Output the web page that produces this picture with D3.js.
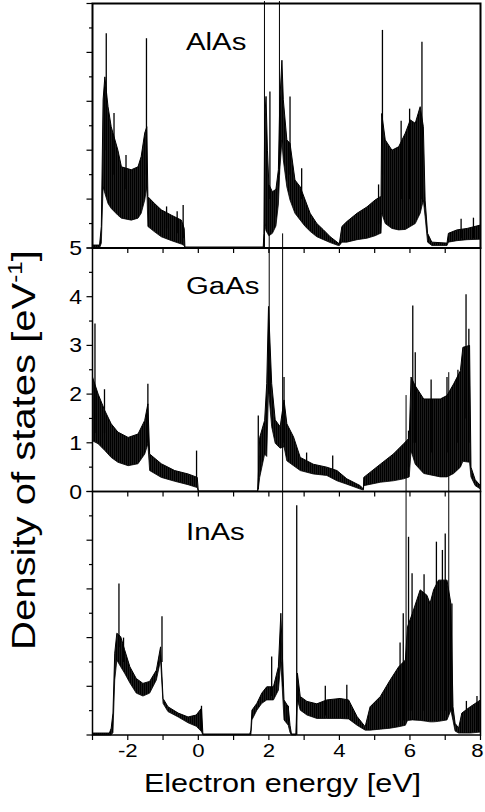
<!DOCTYPE html>
<html>
<head>
<meta charset="utf-8">
<script src="https://cdn.jsdelivr.net/npm/d3@7"></script>
<style>
  body { margin: 0; background: #fff; }
  svg { display: block; }
  text { font-family: "Liberation Sans", Arial, Helvetica, sans-serif; fill: #000; }
</style>
</head>
<body>
<div id="chart"></div>
<script>
// energy axis ticks
const xTicks = [-3, -2, -1, 0, 1, 2, 3, 4, 5, 6, 7, 8];
const xLabels = [-2, 0, 2, 4, 6, 8];
const yTicks = [0, 0.5, 1, 1.5, 2, 2.5, 3, 3.5, 4, 4.5, 5];
const yLabels = [0, 1, 2, 3, 4, 5];

// AlAs: energy, upper and lower edge of the oscillating band, plus spikes [E, base, top]
const alasE  = [-3.0, -2.80, -2.75, -2.70, -2.65, -2.56, -2.47, -2.28, -2.18, -1.90, -1.71, -1.62, -1.52, -1.46, -1.43, -1.24, -1.05, -0.76, -0.48, -0.40, -0.38, 1.84, 1.86, 1.88, 1.92, 1.96, 2.00, 2.10, 2.20, 2.27, 2.31, 2.37, 2.41, 2.51, 2.60, 2.74, 2.89, 3.03, 3.17, 3.36, 3.55, 3.74, 3.97, 4.00, 4.07, 4.21, 4.50, 4.78, 5.01, 5.16, 5.18, 5.20, 5.30, 5.49, 5.68, 5.87, 6.01, 6.15, 6.29, 6.38, 6.43, 6.50, 6.62, 7.05, 7.09, 7.33, 7.62, 8.0];
const alasHi = [0.06, 0.06, 0.44, 3.03, 3.5, 2.89, 2.48, 2.0, 1.66, 1.6, 1.66, 1.87, 2.35, 2.48, 1.05, 0.91, 0.78, 0.67, 0.57, 0.4, 0.02, 0.02, 0.3, 2.6, 3.1, 2.0, 1.3, 1.15, 1.2, 1.6, 3.0, 3.84, 3.03, 2.21, 2.14, 1.39, 1.25, 0.98, 0.71, 0.5, 0.37, 0.23, 0.1, 0.1, 0.44, 0.54, 0.71, 0.84, 0.98, 1.05, 1.05, 2.75, 2.21, 2.0, 2.07, 2.35, 2.62, 2.55, 2.89, 2.48, 0.98, 0.3, 0.12, 0.1, 0.3, 0.37, 0.4, 0.47];
const alasLo = [0, 0, 0.1, 1.25, 1.12, 0.91, 0.81, 0.67, 0.61, 0.57, 0.61, 0.71, 0.98, 1.25, 0.44, 0.33, 0.23, 0.15, 0.08, 0.05, 0, 0, 0, 0.5, 0.35, 0.3, 0.25, 0.3, 0.45, 0.9, 1.6, 2.2, 1.8, 1.25, 0.98, 0.71, 0.57, 0.44, 0.34, 0.23, 0.17, 0.11, 0.05, 0.05, 0.12, 0.12, 0.17, 0.2, 0.25, 0.3, 0.3, 0.71, 0.5, 0.4, 0.37, 0.38, 0.44, 0.5, 0.71, 0.98, 0.64, 0.12, 0.05, 0.05, 0.12, 0.15, 0.17, 0.18];
const alasSpikes = [[-2.61, 2.0, 4.39], [-2.39, 1.5, 2.76], [-2.05, 1.2, 1.9], [-1.47, 1.5, 4.29], [-0.9, 0.4, 0.85], [-0.6, 0.3, 0.75], [-0.43, 0.2, 0.88], [1.875, 0, 5.05], [2.03, 1.0, 3.2], [2.30, 1.5, 5.05], [2.60, 1.5, 3.1], [2.93, 1.0, 1.63], [5.11, 0.5, 1.3], [5.22, 1.5, 4.46], [5.75, 1.0, 2.6], [5.99, 1.0, 2.85], [6.34, 1.0, 4.22], [7.45, 0.2, 0.6], [7.8, 0.2, 0.62]];

// GaAs
const gaasE  = [-3.0, -2.84, -2.65, -2.47, -2.28, -1.99, -1.71, -1.52, -1.43, -1.38, -1.05, -0.67, -0.29, -0.03, 0.0, 1.68, 1.70, 1.74, 1.88, 1.94, 1.99, 2.08, 2.18, 2.32, 2.43, 2.51, 2.70, 2.89, 3.26, 3.64, 3.93, 4.21, 4.59, 4.68, 4.69, 5.16, 5.53, 5.82, 5.98, 6.03, 6.15, 6.39, 6.86, 7.05, 7.24, 7.43, 7.50, 7.69, 7.73, 7.85, 8.0];
const gaasHi = [2.35, 2.0, 1.66, 1.39, 1.22, 1.11, 1.18, 1.46, 1.8, 0.77, 0.57, 0.43, 0.36, 0.29, 0.01, 0.01, 0.29, 1.11, 1.46, 2.22, 3.8, 2.22, 1.47, 1.33, 1.88, 1.39, 1.12, 0.7, 0.56, 0.5, 0.43, 0.26, 0.12, 0.05, 0.29, 0.56, 0.77, 0.98, 1.1, 2.35, 2.17, 1.9, 1.9, 1.97, 2.21, 2.48, 2.96, 3.0, 0.5, 0.24, 0.12];
const gaasLo = [1.04, 0.98, 0.84, 0.7, 0.6, 0.53, 0.57, 0.77, 0.98, 0.43, 0.29, 0.21, 0.14, 0.08, 0, 0, 0.05, 0.29, 0.77, 0.72, 2.09, 1.33, 0.99, 0.89, 0.92, 0.63, 0.53, 0.43, 0.36, 0.33, 0.22, 0.15, 0.05, 0.03, 0.12, 0.19, 0.22, 0.26, 0.3, 0.84, 0.56, 0.37, 0.3, 0.3, 0.37, 0.5, 0.62, 0.6, 0.3, 0.12, 0.05];
const gaasSpikes = [[-2.93, 1.2, 3.45], [-2.66, 1.2, 2.1], [-1.43, 1.0, 2.21], [-0.05, 0.2, 0.84], [1.70, 0.05, 1.56], [2.01, 2.0, 5.3], [2.43, 1.0, 2.35], [3.07, 0.5, 0.8], [3.81, 0.4, 0.74], [5.96, 0.5, 1.25], [6.08, 1.0, 3.82], [6.15, 1.0, 2.86], [6.6, 0.8, 2.3], [7.05, 0.8, 2.35], [7.36, 1.0, 2.5], [7.59, 1.5, 4.05], [7.67, 1.0, 3.34]];

// InAs
const inasE  = [-3.0, -2.52, -2.47, -2.42, -2.37, -2.31, -2.2, -2.09, -1.94, -1.76, -1.57, -1.38, -1.19, -1.07, -1.0, -0.86, -0.57, -0.29, -0.06, 0.09, 0.13, 1.46, 1.49, 1.52, 1.66, 1.80, 1.94, 2.13, 2.27, 2.34, 2.43, 2.55, 2.60, 2.64, 2.77, 2.81, 2.89, 3.08, 3.36, 3.64, 4.02, 4.26, 4.50, 4.73, 4.87, 5.16, 5.44, 5.68, 5.87, 5.93, 6.07, 6.29, 6.48, 6.57, 6.67, 6.81, 7.05, 7.16, 7.22, 7.28, 7.38, 7.47, 7.71, 8.0];
const inasHi = [0.04, 0.04, 0.14, 0.45, 1.68, 2.09, 2.02, 1.75, 1.4, 1.16, 1.06, 1.1, 1.33, 1.81, 0.75, 0.58, 0.45, 0.37, 0.41, 0.55, 0.02, 0.02, 0.1, 0.51, 0.65, 0.86, 0.99, 0.99, 1.4, 2.5, 0.72, 0.58, 0.2, 0.02, 0.02, 1.27, 0.79, 0.69, 0.64, 0.72, 0.75, 0.72, 0.38, 0.17, 0.58, 0.79, 1.13, 1.4, 1.54, 2.22, 2.5, 2.98, 2.87, 2.7, 2.98, 3.18, 3.18, 2.7, 0.58, 0.24, 0.14, 0.45, 0.58, 0.72];
const inasLo = [0, 0, 0, 0.05, 1.13, 1.54, 1.4, 1.27, 1.07, 0.86, 0.8, 0.86, 1.13, 1.54, 0.65, 0.48, 0.37, 0.25, 0.18, 0.07, 0, 0, 0, 0.31, 0.51, 0.65, 0.72, 0.72, 0.92, 1.5, 0.31, 0.2, 0.05, 0, 0, 0.72, 0.51, 0.41, 0.34, 0.34, 0.34, 0.33, 0.2, 0.1, 0.1, 0.12, 0.14, 0.17, 0.2, 0.3, 0.31, 0.3, 0.28, 0.27, 0.27, 0.28, 0.31, 0.51, 0.3, 0.08, 0.04, 0.04, 0.04, 0.06];
const inasSpikes = [[-2.25, 1.8, 3.11], [-2.12, 1.5, 2.0], [-1.03, 1.5, 2.44], [0.09, 0.07, 0.6], [2.08, 0.8, 1.61], [2.39, 1.0, 10.3], [2.55, 0.3, 0.6], [2.79, 0.0, 4.72], [3.6, 0.4, 1.01], [4.21, 0.4, 1.03], [5.72, 0.3, 1.9], [5.81, 0.3, 2.5], [5.89, 0.3, 6.98], [5.96, 0.5, 4.07], [6.06, 0.5, 3.32], [6.4, 0.5, 3.3], [6.75, 0.5, 3.97], [6.92, 0.5, 3.8], [7.0, 0.5, 4.14], [7.1, 0.5, 7.45], [7.19, 0.5, 2.7], [7.6, 0.1, 0.7], [7.9, 0.1, 0.8]];

const width = 485, height = 812;
const svg = d3.select("#chart").append("svg")
    .attr("width", width)
    .attr("height", height);

// fine vertical hatching, the band is a dense oscillation in the scan
const pat = svg.append("defs").append("pattern")
    .attr("id", "hatch")
    .attr("patternUnits", "userSpaceOnUse")
    .attr("width", 2).attr("height", 10);
pat.append("rect").attr("width", 2).attr("height", 10).attr("fill", "#3a3a3a");
pat.append("rect").attr("width", 1.5).attr("height", 10).attr("fill", "#000");

const x = d3.scaleLinear().domain([-3, 8]).range([92.5, 480.5]);

const panels = [
    { name: "AlAs", E: alasE, hi: alasHi, lo: alasLo, spikes: alasSpikes, top: 3.5, bottom: 248, labelY: 50 },
    { name: "GaAs", E: gaasE, hi: gaasHi, lo: gaasLo, spikes: gaasSpikes, top: 248, bottom: 491.5, labelY: 294 },
    { name: "InAs", E: inasE, hi: inasHi, lo: inasLo, spikes: inasSpikes, top: 491.5, bottom: 735, labelY: 540 }
];

// stretched text (the scan is wider than plain Helvetica)
function stretchText(g, tx, ty, str, size, sx, anchor) {
    return g.append("text")
        .attr("transform", `translate(${tx},${ty}) scale(${sx},1)`)
        .attr("text-anchor", anchor)
        .attr("font-size", size)
        .text(str);
}

const curves = svg.append("g");
const frames = svg.append("g");

panels.forEach((p, i) => {
    const y = d3.scaleLinear().domain([0, 5]).range([p.bottom, p.top]);
    const rows = p.E.map((e, k) => ({ e: e, hi: p.hi[k], lo: p.lo[k] }));

    const area = d3.area()
        .x(d => x(d.e))
        .y0(d => y(d.lo))
        .y1(d => y(d.hi));
    const line = d3.line()
        .x(d => x(d.e))
        .y(d => y(d.hi));
    const lineLo = d3.line()
        .x(d => x(d.e))
        .y(d => y(d.lo));

    curves.append("path")
        .attr("d", area(rows))
        .attr("fill", "url(#hatch)");
    curves.append("path")
        .attr("d", line(rows))
        .attr("fill", "none")
        .attr("stroke", "#000")
        .attr("stroke-width", 1);
    curves.append("path")
        .attr("d", lineLo(rows))
        .attr("fill", "none")
        .attr("stroke", "#000")
        .attr("stroke-width", 0.8);

    curves.selectAll(null)
        .data(p.spikes)
        .enter().append("line")
        .attr("x1", d => x(d[0])).attr("x2", d => x(d[0]))
        .attr("y1", d => y(d[1])).attr("y2", d => y(d[2]))
        .attr("stroke", "#000")
        .attr("stroke-width", d => d[2] > 5 ? 1 : 1.3);

    // frame
    const f = frames.append("g");
    f.append("rect")
        .attr("x", x(-3)).attr("y", p.top)
        .attr("width", x(8) - x(-3)).attr("height", p.bottom - p.top)
        .attr("fill", "none")
        .attr("stroke", "#000")
        .attr("stroke-width", i === 0 ? 2 : 1.5);

    // y ticks, outward
    f.selectAll(null)
        .data(yTicks)
        .enter().append("line")
        .attr("x1", x(-3))
        .attr("x2", d => x(-3) - (d % 1 === 0 ? 6 : 3.5))
        .attr("y1", d => y(d)).attr("y2", d => y(d))
        .attr("stroke", "#000")
        .attr("stroke-width", 1.2);

    // x ticks on top edge, inward
    if (i > 0) {
        f.selectAll(null)
            .data(xTicks.slice(1, -1))
            .enter().append("line")
            .attr("x1", d => x(d)).attr("x2", d => x(d))
            .attr("y1", p.top).attr("y2", p.top + 5)
            .attr("stroke", "#000")
            .attr("stroke-width", 1.2);
    }

    if (i === 1) {
        yLabels.forEach(v => stretchText(f, 82, y(v) + 7, v, 20, 1.15, "end"));
    }

    stretchText(f, 186, p.labelY, p.name, 23.5, 1.25, "start");
});

// bottom x axis
const last = panels[2];
frames.selectAll(null)
    .data(xTicks)
    .enter().append("line")
    .attr("x1", d => x(d)).attr("x2", d => x(d))
    .attr("y1", last.bottom).attr("y2", last.bottom + 5)
    .attr("stroke", "#000")
    .attr("stroke-width", 1.2);

xLabels.forEach(v => stretchText(frames, Math.min(x(v), 477.5), 757, v < 0 ? "-" + Math.abs(v) : v, 18.5, 1.2, "middle"));

stretchText(frames, 282.5, 792, "Electron energy [eV]", 25.5, 1.2, "middle");

// y title with superscript
const yt = frames.append("text")
    .attr("transform", "translate(35,450) rotate(-90)")
    .attr("text-anchor", "middle")
    .attr("font-size", 33)
    .attr("textLength", 400)
    .attr("lengthAdjust", "spacingAndGlyphs");
yt.append("tspan").text("Density of states [eV");
yt.append("tspan").attr("dy", -13).attr("font-size", 20).text("-1");
yt.append("tspan").attr("dy", 13).text("]");
</script>
</body>
</html>
